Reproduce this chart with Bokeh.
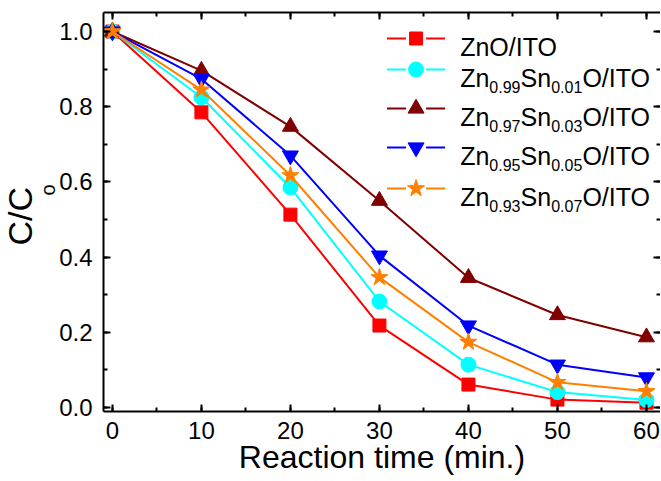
import math
from bokeh.plotting import figure
from bokeh.models import (LinearAxis, SingleIntervalTicker, PrintfTickFormatter,
                          Range1d, Label, Title)
from bokeh.embed import file_html
from bokeh.resources import INLINE

# ---------------- data ----------------
time_min = [0, 10, 20, 30, 40, 50, 60]
zno_ito = [1.0, 0.785, 0.513, 0.218, 0.061, 0.021, 0.013]
zn099_sn001 = [1.0, 0.825, 0.585, 0.282, 0.114, 0.041, 0.020]
zn097_sn003 = [1.0, 0.896, 0.747, 0.550, 0.345, 0.246, 0.187]
zn095_sn005 = [1.0, 0.874, 0.670, 0.404, 0.218, 0.114, 0.080]
zn093_sn007 = [1.0, 0.845, 0.617, 0.346, 0.174, 0.067, 0.043]

# legend name pieces: (text, is_subscript)
names = [
    [("ZnO/ITO", False)],
    [("Zn", False), ("0.99", True), ("Sn", False), ("0.01", True), ("O/ITO", False)],
    [("Zn", False), ("0.97", True), ("Sn", False), ("0.03", True), ("O/ITO", False)],
    [("Zn", False), ("0.95", True), ("Sn", False), ("0.05", True), ("O/ITO", False)],
    [("Zn", False), ("0.93", True), ("Sn", False), ("0.07", True), ("O/ITO", False)],
]
series = [zno_ito, zn099_sn001, zn097_sn003, zn095_sn005, zn093_sn007]
colors = ["#FF0000", "#00FFFF", "#800000", "#0000FF", "#FF8000"]
markers = ["square", "circle", "triangle", "inverted_triangle", "star"]
msizes = [13, 15, 16, 16, 18]

x_label = "Reaction time (min.)"
y_label_main = "C/C"
y_label_sub = "o"

# ---------------- layout ----------------
FONT = "Liberation Sans"
W, H = 660, 481
FL, FR, FT, FB = 104, 660, 12, 411
X0, X1 = -1.0, -1.0 + (FR - FL) / 8.885
Y0, Y1 = -0.0106, -0.0106 + (FB - FT) / 376.0


def dx(px):
    return X0 + (px - FL) * (X1 - X0) / (FR - FL)


def dy(py):
    return Y1 - (py - FT) * (Y1 - Y0) / (FB - FT)


p = figure(width=W, height=H, x_range=Range1d(X0, X1), y_range=Range1d(Y0, Y1),
           output_backend="svg", toolbar_location=None, title=None,
           min_border_left=0, min_border_right=0,
           min_border_top=FT, min_border_bottom=H - FB)
p.outline_line_color = None
p.xgrid.visible = False
p.ygrid.visible = False
p.background_fill_color = "white"
p.border_fill_color = "white"


def style_axis(ax, show_labels):
    ax.axis_line_width = 2
    ax.axis_line_color = "black"
    ax.major_tick_in = 7
    ax.major_tick_out = 0
    ax.minor_tick_in = 4
    ax.minor_tick_out = 0
    ax.major_tick_line_width = 2
    ax.minor_tick_line_width = 2
    ax.major_tick_line_color = "black"
    ax.minor_tick_line_color = "black"
    ax.major_label_text_font = FONT
    if show_labels:
        ax.major_label_text_font_size = "24px"
        ax.major_label_text_color = "black"
    else:
        ax.major_label_text_font_size = "0px"
        ax.major_label_text_color = None
        ax.major_label_standoff = 0


xt = SingleIntervalTicker(interval=10, num_minor_ticks=2)
yt = SingleIntervalTicker(interval=0.2, num_minor_ticks=2)

bottom = p.xaxis[0]
bottom.ticker = xt
bottom.formatter = PrintfTickFormatter(format="%d")
style_axis(bottom, True)
bottom.major_label_standoff = 10
bottom.axis_label = x_label
bottom.axis_label_text_font = FONT
bottom.axis_label_text_font_size = "32px"
bottom.axis_label_text_font_style = "normal"
bottom.axis_label_text_color = "black"
bottom.axis_label_standoff = -3

left = p.yaxis[0]
left.ticker = yt
left.formatter = PrintfTickFormatter(format="%.1f")
style_axis(left, True)
left.major_label_standoff = 11

top = LinearAxis(ticker=xt)
style_axis(top, False)
top.major_label_standoff = FT
right = LinearAxis(ticker=yt)
style_axis(right, False)
right.axis_line_color = None
p.add_layout(top, "above")
p.add_layout(right, "right")

# y-axis title with subscript, as two titles on the left side
t_sub = Title(text=y_label_sub, text_font=FONT, text_font_size="20px",
              text_font_style="normal", text_color="black",
              align="left", vertical_align="top", offset=FB - 195, standoff=-8)
t_main = Title(text=y_label_main, text_font=FONT, text_font_size="34px",
               text_font_style="normal", text_color="black",
               align="left", vertical_align="top", offset=FB - 245, standoff=0)
p.add_layout(t_sub, "left")
p.add_layout(t_main, "left")

# ---------------- series ----------------
for vals, c, m, s in zip(series, colors, markers, msizes):
    p.line(time_min, vals, line_color=c, line_width=2)
    p.scatter(time_min, vals, marker=m, size=s, fill_color=c, line_color=c)

# ---------------- legend (manual, for subscripts) ----------------
MAIN_FS, SUB_FS = 25, 16
adv = {"Z": .611, "n": .556, "S": .667, "O": .778, "/": .278, "I": .278, "T": .611,
       ".": .278}
for d in "0123456789":
    adv[d] = .556


def text_w(t, fs):
    return sum(adv.get(ch, .556) for ch in t) * fs


row_centers = [38, 69, 108, 147, 188]
for name, c, m, s, yc in zip(names, colors, markers, msizes, row_centers):
    p.segment(x0=[dx(387)], y0=[dy(yc)], x1=[dx(406)], y1=[dy(yc)], line_color=c, line_width=2)
    p.segment(x0=[dx(426)], y0=[dy(yc)], x1=[dx(445)], y1=[dy(yc)], line_color=c, line_width=2)
    p.scatter([dx(416)], [dy(yc)], marker=m, size=s, fill_color=c, line_color=c)
    base = yc + 8
    xpos = 460
    for txt, sub in name:
        fs = SUB_FS if sub else MAIN_FS
        yb = base + 9 if sub else base
        p.add_layout(Label(x=dx(xpos), y=dy(yb), text=txt, text_font=FONT,
                           text_font_size=f"{fs}px", text_color="black",
                           text_align="left", text_baseline="alphabetic"))
        xpos += text_w(txt, fs)

open("out.html", "w").write(file_html(p, INLINE))
